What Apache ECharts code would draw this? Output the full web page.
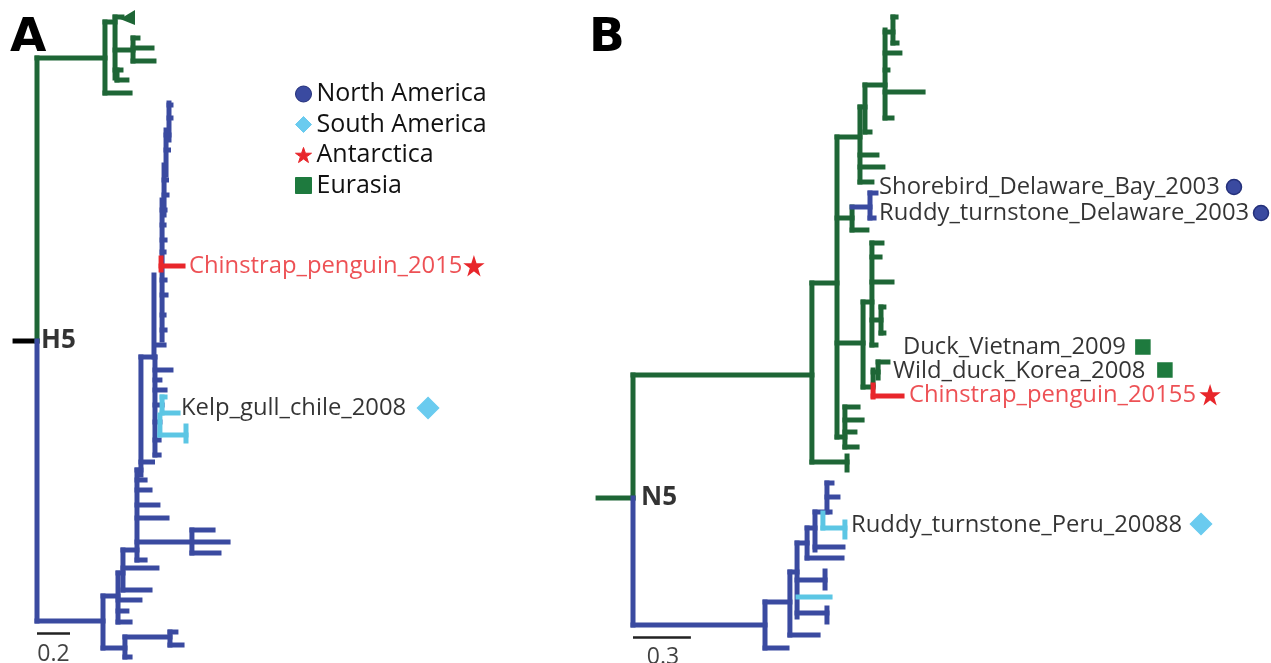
<!DOCTYPE html>
<html><head><meta charset="utf-8">
<script src="https://cdn.jsdelivr.net/npm/echarts@6/dist/echarts.min.js"></script>
<style>html,body{margin:0;padding:0;background:#fff}#c{width:1271px;height:663px}</style>
</head><body><div id="c"></div>
<script>
// ---- Panel A (H5) branches: [x0, y0, x1, y1]; x = genetic distance, y = tip position ----
const A_root = [[-0.133,341,0,341]];
const A_green = [
 [0,58,0,341],[0,58,0.412,58],[0.412,22,0.412,93],[0.412,22,0.473,22],[0.473,17,0.473,78],
 [0.473,17,0.515,17],[0.473,50,0.582,50],[0.582,38,0.582,61],[0.582,38,0.612,38],
 [0.582,48,0.697,48],[0.582,61,0.709,61],[0.473,70,0.509,70],[0.485,70,0.485,80],
 [0.485,80,0.545,80],[0.412,93,0.564,93]
];
const A_collapsed = [[0.503,19,0.594,10,25]];
const A_blue = [
 [0,341,0,621],[0,621,0.400,621],[0.400,596,0.400,648],[0.400,648,0.533,648],
 [0.533,637,0.533,657],[0.533,657,0.564,657],[0.533,637,0.806,637],[0.806,632,0.806,645],
 [0.806,632,0.842,632],[0.806,645,0.879,645],[0.400,596,0.491,596],[0.491,573,0.491,622],
 [0.491,622,0.564,622],[0.491,611,0.545,611],[0.491,600,0.624,600],[0.491,573,0.521,573],
 [0.521,550,0.521,590],[0.521,590,0.685,590],[0.521,568,0.727,568],[0.521,550,0.606,550],
 [0.606,470,0.606,560],[0.606,560,0.655,560],[0.606,518,0.788,518],[0.606,542,1.158,542],
 [0.939,530,0.939,553],[0.939,530,1.067,530],[0.939,553,1.103,553],[0.606,505,0.733,505],
 [0.606,490,0.685,490],[0.606,480,0.655,480],[0.606,470,0.630,470],[0.630,357,0.630,475],
 [0.630,357,0.715,357],[0.630,462,0.700,462],[0.709,275,0.709,357],[0.715,357,0.715,455],
 [0.715,345,0.770,345],[0.715,370,0.812,370],[0.715,390,0.776,390],[0.715,380,0.745,380],
 [0.715,440,0.740,440],[0.715,455,0.740,455],[0.715,405,0.758,405],[0.715,422,0.745,422],
 [0.758,200,0.758,340],[0.758,280,0.776,280],[0.758,295,0.782,295],[0.758,315,0.770,315],
 [0.758,330,0.776,330],[0.758,252,0.770,252],[0.758,240,0.776,240],[0.758,225,0.770,225],
 [0.758,210,0.776,210],[0.770,165,0.770,215],[0.770,180,0.785,180],[0.770,195,0.788,195],
 [0.782,130,0.782,175],[0.782,150,0.797,150],[0.782,135,0.800,135],[0.800,103,0.800,140],
 [0.800,105,0.812,105],[0.800,118,0.812,118]
];
const A_light = [
 [0.758,397,0.758,413],[0.758,397,0.776,397],[0.758,413,0.855,413],
 [0.745,415,0.745,435],[0.745,435,0.903,435],[0.903,426,0.903,441]
];
const A_red = [[0.752,258,0.752,270],[0.752,266,0.885,266]];
const A_scale = [[0,633,0.2,633]];

// ---- Panel B (N5) branches ----
const B_green = [
 [-0.181,498,0,498],[0,375,0,498],[0,375,0.927,375],[0.927,283,0.927,462],
 [0.927,462,1.109,462],[1.109,456,1.109,470],[0.927,283,1.057,283],[1.057,137,1.057,437],
 [1.057,137,1.176,137],[1.176,107,1.176,182],[1.176,155,1.264,155],[1.176,167,1.295,167],
 [1.176,182,1.238,182],[1.176,107,1.202,107],[1.202,85,1.202,132],[1.202,132,1.228,132],
 [1.202,85,1.306,85],[1.306,30,1.306,118],[1.306,32,1.347,32],[1.347,17,1.347,43],
 [1.347,17,1.363,17],[1.347,43,1.368,43],[1.306,53,1.383,53],[1.306,92,1.503,92],
 [1.306,118,1.342,118],[1.306,70,1.321,70],
 [1.057,218,1.135,218],[1.135,207,1.135,230],[1.135,230,1.212,230],
 [1.057,343,1.192,343],[1.192,302,1.192,387],[1.192,302,1.238,302],[1.238,243,1.238,345],
 [1.238,243,1.290,243],[1.238,257,1.280,257],[1.238,282,1.342,282],[1.238,345,1.259,345],
 [1.238,320,1.285,320],[1.285,307,1.285,333],[1.285,307,1.300,307],[1.285,333,1.300,333],
 [1.192,387,1.244,387],[1.244,370,1.244,385],[1.244,372,1.270,372],[1.270,362,1.270,378],
 [1.270,362,1.321,362],
 [1.057,437,1.098,437],[1.098,407,1.098,447],[1.098,407,1.166,407],[1.098,420,1.187,420],
 [1.098,432,1.150,432],[1.098,447,1.161,447]
];
const B_blue = [
 [1.135,207,1.228,207],[1.228,193,1.228,218],[1.228,193,1.259,193],[1.228,218,1.249,218],
 [0,498,0,625],[0,625,0.684,625],[0.684,602,0.684,648],[0.684,648,0.798,648],
 [0.684,602,0.813,602],[0.813,572,0.813,635],[0.813,635,0.959,635],[0.813,572,0.850,572],
 [0.850,543,0.850,617],[0.850,613,1.005,613],[1.005,608,1.005,622],[0.850,580,0.995,580],
 [0.995,571,0.995,588],[0.850,543,0.902,543],[0.902,528,0.902,558],[0.902,558,1.083,558],
 [0.902,528,0.943,528],[0.943,512,0.943,550],[0.943,547,1.088,547],[0.943,512,1.021,512],
 [1.005,483,1.005,512],[1.005,497,1.062,497],[1.005,483,1.031,483]
];
const B_light = [
 [0.855,597,1.021,597],[0.984,513,0.984,528],[0.984,528,1.098,528],[1.098,522,1.098,537]
];
const B_red = [[1.244,385,1.244,397],[1.244,396,1.394,396]];
const B_scale = [[0,637,0.3,637]];

// ---- Tip labels: [name, x, y, colour] ----
const A_labels = [['Chinstrap_penguin_2015',0.921,266,'red'],['Kelp_gull_chile_2008',0.873,408,'black']];
const B_labels = [
 ['Shorebird_Delaware_Bay_2003',1.275,187,'black'],['Ruddy_turnstone_Delaware_2003',1.275,213,'black'],
 ['Duck_Vietnam_2009',1.399,347,'black'],['Wild_duck_Korea_2008',1.347,371,'black'],
 ['Chinstrap_penguin_20155',1.430,395,'red'],['Ruddy_turnstone_Peru_20088',1.130,525,'black']
];
// ---- Origin markers per region ----
const regions = ['North America','South America','Antarctica','Eurasia'];
const A_markers = {'South America':[[2.370,408]], 'Antarctica':[[2.648,266]]};
const B_markers = {'North America':[[3.114,187],[3.254,213]], 'South America':[[2.943,524]],
                   'Antarctica':[[2.990,395]], 'Eurasia':[[2.642,347],[2.756,370]]};
const A_roots = [['H5',0,341]];
const B_roots = [['N5',0,498]];
const A_scaleLabel = [['0.2',0.1,654]];
const B_scaleLabel = [['0.3',0.155,657]];

// ---- styling ----
const COL = {green:'#1E6636', blue:'#3A4AA0', light:'#5CC6E4', red:'#E8262B', black:'#000'};
const STAR = 'path://M50,0 L61.8,35.1 L98.9,35.1 L68.9,56.9 L80.3,91.9 L50,70.2 L19.7,91.9 L31.1,56.9 L1.1,35.1 L38.2,35.1 Z';
const REGION_STYLE = {
 'North America':{symbol:'circle', size:15, color:'#3A4AA0', border:'#24307a'},
 'South America':{symbol:'diamond', size:21, color:'#6ACBEF', border:'#6ACBEF'},
 'Antarctica':{symbol:STAR, size:17, color:'#E8262B', border:'#E8262B'},
 'Eurasia':{symbol:'rect', size:14, color:'#1E7A3E', border:'#1E7A3E'}
};
const FONT = '"Open Sans", "Liberation Sans", sans-serif';
const PX_A = 165, PX_B = 193;

function segSeries(idx, segs, color, w){
  return {type:'custom', xAxisIndex:idx, yAxisIndex:idx, clip:false, silent:true,
    encode:{x:[0,2], y:[1,3]}, data:segs,
    renderItem:function(p, api){
      const a = api.coord([api.value(0), api.value(1)]);
      const b = api.coord([api.value(2), api.value(3)]);
      return {type:'line', shape:{x1:a[0],y1:a[1],x2:b[0],y2:b[1]},
        style:{stroke:color, lineWidth:w, lineCap:'square'}};
    }};
}
function triSeries(idx, tris, color){
  return {type:'custom', xAxisIndex:idx, yAxisIndex:idx, clip:false, silent:true, data:tris,
    encode:{x:[0,2], y:[1,3]},
    renderItem:function(p, api){
      const a = api.coord([api.value(0), api.value(1)]);
      const t = api.coord([api.value(2), api.value(3)]);
      const b = api.coord([api.value(2), api.value(4)]);
      return {type:'polygon', shape:{points:[a,t,b]}, style:{fill:color}};
    }};
}
function labelSeries(idx, items, size, weight){
  return {type:'scatter', xAxisIndex:idx, yAxisIndex:idx, symbolSize:0, silent:true,
    data: items.map(d => ({name:d[0], value:[d[1], d[2]],
      label:{color: d[3]==='red' ? COL.red : '#000'}})),
    label:{show:true, position:'right', distance:0, formatter:'{b}', fontSize:size,
      fontWeight:weight||'normal', fontFamily:FONT, color:'#000'}};
}
function centerLabel(idx, items, size){
  return {type:'scatter', xAxisIndex:idx, yAxisIndex:idx, symbolSize:0, silent:true,
    data: items.map(d => ({name:d[0], value:[d[1], d[2]]})),
    label:{show:true, position:'inside', formatter:'{b}', fontSize:size, fontFamily:FONT, color:'#111'}};
}
function markerSeries(idx, markers){
  return regions.filter(r => markers[r]).map(r => ({
    type:'scatter', name:r, xAxisIndex:idx, yAxisIndex:idx, symbol:REGION_STYLE[r].symbol,
    symbolSize:REGION_STYLE[r].size, data:markers[r], silent:true,
    itemStyle:{color:REGION_STYLE[r].color, borderColor:REGION_STYLE[r].border, borderWidth:1.5, opacity:1}
  }));
}

const chart = echarts.init(document.getElementById('c'), null, {renderer:'canvas'});
const LETTER = {fontSize:47, fontWeight:'bold', color:'#000', fontFamily:'"DejaVu Sans", sans-serif'};
chart.setOption({
  animation:false,
  backgroundColor:'#fff',
  title:[
    {text:'A', left:10, top:15, padding:0, textStyle:LETTER},
    {text:'B', left:589, top:15, padding:0, textStyle:LETTER}
  ],
  legend:{
    orient:'vertical', left:295, top:81, padding:0, itemWidth:16, itemHeight:16, itemGap:4.5,
    data: regions.map(r => ({name:r, icon:REGION_STYLE[r].symbol,
      itemStyle:{color:REGION_STYLE[r].color, borderColor:REGION_STYLE[r].border, borderWidth:1}})),
    textStyle:{fontSize:25, fontFamily:FONT, color:'#111', lineHeight:26},
    selectedMode:false
  },
  grid:[
    {left:4, top:0, width:580, height:663},
    {left:633 - 0.2*PX_B, top:0, width:670, height:663}
  ],
  xAxis:[
    {type:'value', gridIndex:0, min:-0.2, max:-0.2 + 580/PX_A, show:false},
    {type:'value', gridIndex:1, min:-0.2, max:-0.2 + 670/PX_B, show:false}
  ],
  yAxis:[
    {type:'value', gridIndex:0, min:0, max:663, inverse:true, show:false},
    {type:'value', gridIndex:1, min:0, max:663, inverse:true, show:false}
  ],
  series:[
    segSeries(0, A_root, '#000', 5),
    segSeries(0, A_green, COL.green, 5),
    triSeries(0, A_collapsed, COL.green),
    segSeries(0, A_blue, COL.blue, 5),
    segSeries(0, A_light, COL.light, 5),
    segSeries(0, A_red, COL.red, 5),
    {type:'lines', coordinateSystem:'cartesian2d', xAxisIndex:0, yAxisIndex:0, silent:true,
      data: A_scale.map(s => ({coords:[[s[0],s[1]],[s[2],s[3]]]})), lineStyle:{color:'#222', width:2.5, opacity:1}},
    segSeries(1, B_green, COL.green, 5),
    segSeries(1, B_blue, COL.blue, 5),
    segSeries(1, B_light, COL.light, 5),
    segSeries(1, B_red, COL.red, 5),
    {type:'lines', coordinateSystem:'cartesian2d', xAxisIndex:1, yAxisIndex:1, silent:true,
      data: B_scale.map(s => ({coords:[[s[0],s[1]],[s[2],s[3]]]})), lineStyle:{color:'#222', width:2.5, opacity:1}},
    labelSeries(0, A_labels, 23.8),
    labelSeries(1, B_labels, 23.8),
    labelSeries(0, A_roots.map(d => [d[0], d[1] + 4/PX_A, d[2]]), 26, 'bold'),
    labelSeries(1, B_roots.map(d => [d[0], d[1] + 8/PX_B, d[2]]), 26, 'bold'),
    centerLabel(0, A_scaleLabel, 23),
    centerLabel(1, B_scaleLabel, 23),
    ...markerSeries(0, A_markers),
    ...markerSeries(1, B_markers)
  ]
});
</script></body></html>
